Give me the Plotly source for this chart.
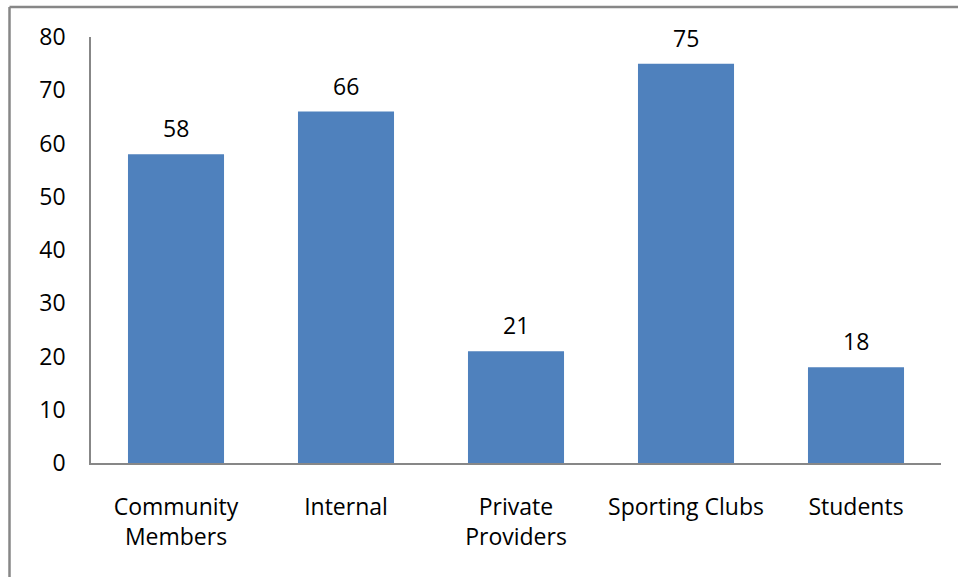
import plotly.graph_objects as go

categories = ["Community<br>Members", "Internal", "Private<br>Providers", "Sporting Clubs", "Students"]
values = [58, 66, 21, 75, 18]
y_ticks = [0, 10, 20, 30, 40, 50, 60, 70, 80]

W, H = 958, 577
L, R, T, B = 91, 17, 37, 114
pw, ph = W - L - R, H - T - B

FONT = "Open Sans"
FS = 23

fig = go.Figure(go.Bar(
    x=categories, y=values,
    marker=dict(color="#4F81BD", line=dict(width=0)),
    width=0.565,
))

for c, v in zip(categories, values):
    fig.add_annotation(x=c, y=v, text=str(v), showarrow=False,
                       yanchor="middle", yshift=26,
                       font=dict(family=FONT, size=FS, color="black"))

def px_x(p):
    return (p - L) / pw

def px_y(p):
    return (H - B - p) / ph

border = dict(color="#878787", width=2.5)
fig.add_shape(type="line", xref="paper", yref="paper",
              x0=px_x(9.5), x1=px_x(9.5), y0=px_y(7), y1=px_y(600), line=border)
fig.add_shape(type="line", xref="paper", yref="paper",
              x0=px_x(9.5), x1=px_x(1000), y0=px_y(7), y1=px_y(7), line=border)

fig.update_layout(
    width=W, height=H,
    margin=dict(l=L, r=R, t=T, b=B),
    paper_bgcolor="white", plot_bgcolor="white",
    showlegend=False,
    font=dict(family=FONT, size=FS, color="black"),
    bargap=0.435,
)
fig.update_xaxes(showline=True, linecolor="#878787", linewidth=2,
                 showgrid=False, ticks="", ticklabelstandoff=22,
                 tickfont=dict(family=FONT, size=FS, color="black"))
fig.update_yaxes(range=[0, 80], tickvals=y_ticks, showline=True,
                 linecolor="#878787", linewidth=1.5, showgrid=False,
                 zeroline=False, ticks="", ticklabelstandoff=19,
                 tickfont=dict(family=FONT, size=FS, color="black"))

fig.write_html("out.html", config={"displayModeBar": False},
               post_script="document.body.style.margin='0';")
